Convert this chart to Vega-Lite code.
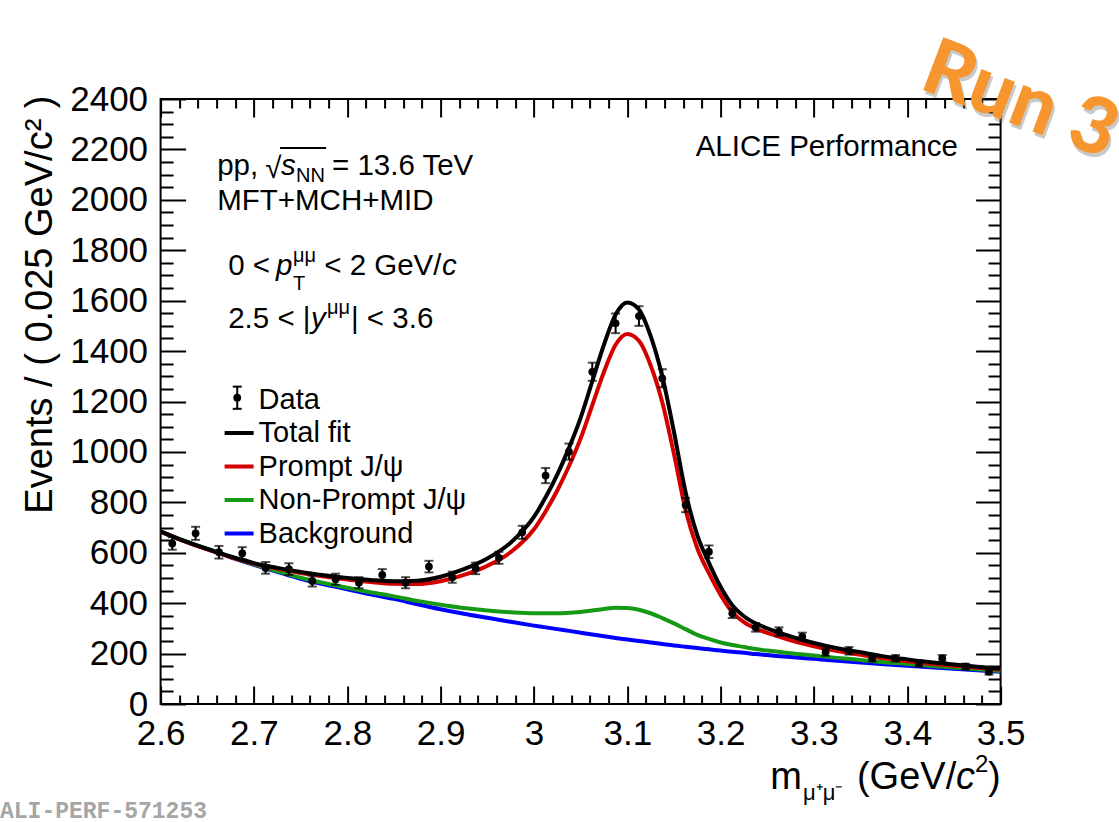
{
  "$schema": "https://vega.github.io/schema/vega-lite/v6.json",
  "width": 840,
  "height": 605,
  "autosize": {"type": "none"},
  "padding": {"left": 160.6, "top": 99, "right": 118.4, "bottom": 118},
  "background": "white",
  "config": {
    "view": {"stroke": "#000000", "strokeWidth": 2},
    "font": "Liberation Sans",
    "text": {"font": "Liberation Sans", "color": "#000000"}
  },
  "data": {"values": [{}]},
  "datasets": {
    "bins": [
      {"m": 2.6125, "n": 637, "err": 25}, {"m": 2.6375, "n": 677, "err": 26},
      {"m": 2.6625, "n": 602, "err": 25}, {"m": 2.6875, "n": 598, "err": 24},
      {"m": 2.7125, "n": 540, "err": 23}, {"m": 2.7375, "n": 535, "err": 23},
      {"m": 2.7625, "n": 488, "err": 22}, {"m": 2.7875, "n": 495, "err": 22},
      {"m": 2.8125, "n": 481, "err": 22}, {"m": 2.8375, "n": 512, "err": 23},
      {"m": 2.8625, "n": 481, "err": 22}, {"m": 2.8875, "n": 545, "err": 23},
      {"m": 2.9125, "n": 503, "err": 22}, {"m": 2.9375, "n": 538, "err": 23},
      {"m": 2.9625, "n": 580, "err": 24}, {"m": 2.9875, "n": 681, "err": 26},
      {"m": 3.0125, "n": 906, "err": 30}, {"m": 3.0375, "n": 1001, "err": 32},
      {"m": 3.0625, "n": 1318, "err": 36}, {"m": 3.0875, "n": 1510, "err": 39},
      {"m": 3.1125, "n": 1539, "err": 39}, {"m": 3.1375, "n": 1292, "err": 36},
      {"m": 3.1625, "n": 789, "err": 28}, {"m": 3.1875, "n": 604, "err": 25},
      {"m": 3.2125, "n": 360, "err": 19}, {"m": 3.2375, "n": 304, "err": 17},
      {"m": 3.2625, "n": 287, "err": 17}, {"m": 3.2875, "n": 267, "err": 16},
      {"m": 3.3125, "n": 205, "err": 14}, {"m": 3.3375, "n": 211, "err": 15},
      {"m": 3.3625, "n": 181, "err": 13}, {"m": 3.3875, "n": 181, "err": 13},
      {"m": 3.4125, "n": 161, "err": 13}, {"m": 3.4375, "n": 181, "err": 13},
      {"m": 3.4625, "n": 148, "err": 12}, {"m": 3.4875, "n": 128, "err": 11}
    ],
    "fit": [
      {"m": 2.600, "Background": 683, "Non-Prompt J/ψ": 684, "Prompt J/ψ": 684, "Total fit": 685},
      {"m": 2.625, "Background": 647, "Non-Prompt J/ψ": 648, "Prompt J/ψ": 646, "Total fit": 647},
      {"m": 2.650, "Background": 614, "Non-Prompt J/ψ": 616, "Prompt J/ψ": 613, "Total fit": 615},
      {"m": 2.675, "Background": 582, "Non-Prompt J/ψ": 584, "Prompt J/ψ": 583, "Total fit": 585},
      {"m": 2.700, "Background": 552, "Non-Prompt J/ψ": 554, "Prompt J/ψ": 557, "Total fit": 559},
      {"m": 2.725, "Background": 524, "Non-Prompt J/ψ": 527, "Prompt J/ψ": 537, "Total fit": 540},
      {"m": 2.750, "Background": 497, "Non-Prompt J/ψ": 501, "Prompt J/ψ": 520, "Total fit": 524},
      {"m": 2.775, "Background": 475, "Non-Prompt J/ψ": 480, "Prompt J/ψ": 506, "Total fit": 511},
      {"m": 2.800, "Background": 455, "Non-Prompt J/ψ": 461, "Prompt J/ψ": 494, "Total fit": 500},
      {"m": 2.825, "Background": 435, "Non-Prompt J/ψ": 443, "Prompt J/ψ": 484, "Total fit": 492},
      {"m": 2.850, "Background": 417, "Non-Prompt J/ψ": 427, "Prompt J/ψ": 477, "Total fit": 487},
      {"m": 2.875, "Background": 396, "Non-Prompt J/ψ": 409, "Prompt J/ψ": 476, "Total fit": 489},
      {"m": 2.900, "Background": 376, "Non-Prompt J/ψ": 394, "Prompt J/ψ": 487, "Total fit": 505},
      {"m": 2.925, "Background": 358, "Non-Prompt J/ψ": 381, "Prompt J/ψ": 512, "Total fit": 535},
      {"m": 2.950, "Background": 342, "Non-Prompt J/ψ": 371, "Prompt J/ψ": 548, "Total fit": 577},
      {"m": 2.975, "Background": 326, "Non-Prompt J/ψ": 364, "Prompt J/ψ": 602, "Total fit": 640},
      {"m": 3.000, "Background": 311, "Non-Prompt J/ψ": 360, "Prompt J/ψ": 693, "Total fit": 742},
      {"m": 3.0125, "Background": 304, "Non-Prompt J/ψ": 360, "Prompt J/ψ": 764, "Total fit": 820},
      {"m": 3.025, "Background": 297, "Non-Prompt J/ψ": 360, "Prompt J/ψ": 847, "Total fit": 910},
      {"m": 3.0375, "Background": 290, "Non-Prompt J/ψ": 362, "Prompt J/ψ": 943, "Total fit": 1015},
      {"m": 3.050, "Background": 283, "Non-Prompt J/ψ": 365, "Prompt J/ψ": 1053, "Total fit": 1135},
      {"m": 3.0625, "Background": 276, "Non-Prompt J/ψ": 371, "Prompt J/ψ": 1185, "Total fit": 1280},
      {"m": 3.075, "Background": 269, "Non-Prompt J/ψ": 377, "Prompt J/ψ": 1317, "Total fit": 1425},
      {"m": 3.0875, "Background": 262, "Non-Prompt J/ψ": 382, "Prompt J/ψ": 1425, "Total fit": 1545},
      {"m": 3.100, "Background": 256, "Non-Prompt J/ψ": 381, "Prompt J/ψ": 1468, "Total fit": 1593},
      {"m": 3.1125, "Background": 250, "Non-Prompt J/ψ": 374, "Prompt J/ψ": 1441, "Total fit": 1565},
      {"m": 3.125, "Background": 244, "Non-Prompt J/ψ": 360, "Prompt J/ψ": 1344, "Total fit": 1460},
      {"m": 3.1375, "Background": 238, "Non-Prompt J/ψ": 341, "Prompt J/ψ": 1197, "Total fit": 1300},
      {"m": 3.150, "Background": 232, "Non-Prompt J/ψ": 320, "Prompt J/ψ": 992, "Total fit": 1080},
      {"m": 3.1625, "Background": 227, "Non-Prompt J/ψ": 297, "Prompt J/ψ": 770, "Total fit": 840},
      {"m": 3.175, "Background": 222, "Non-Prompt J/ψ": 274, "Prompt J/ψ": 618, "Total fit": 670},
      {"m": 3.1875, "Background": 217, "Non-Prompt J/ψ": 258, "Prompt J/ψ": 519, "Total fit": 560},
      {"m": 3.200, "Background": 212, "Non-Prompt J/ψ": 244, "Prompt J/ψ": 433, "Total fit": 465},
      {"m": 3.2125, "Background": 207, "Non-Prompt J/ψ": 234, "Prompt J/ψ": 365, "Total fit": 392},
      {"m": 3.225, "Background": 203, "Non-Prompt J/ψ": 226, "Prompt J/ψ": 325, "Total fit": 348},
      {"m": 3.2375, "Background": 198, "Non-Prompt J/ψ": 218, "Prompt J/ψ": 300, "Total fit": 320},
      {"m": 3.250, "Background": 194, "Non-Prompt J/ψ": 212, "Prompt J/ψ": 282, "Total fit": 300},
      {"m": 3.275, "Background": 186, "Non-Prompt J/ψ": 201, "Prompt J/ψ": 253, "Total fit": 268},
      {"m": 3.300, "Background": 179, "Non-Prompt J/ψ": 192, "Prompt J/ψ": 229, "Total fit": 242},
      {"m": 3.325, "Background": 172, "Non-Prompt J/ψ": 183, "Prompt J/ψ": 210, "Total fit": 221},
      {"m": 3.350, "Background": 165, "Non-Prompt J/ψ": 175, "Prompt J/ψ": 195, "Total fit": 205},
      {"m": 3.375, "Background": 158, "Non-Prompt J/ψ": 166, "Prompt J/ψ": 181, "Total fit": 189},
      {"m": 3.400, "Background": 152, "Non-Prompt J/ψ": 159, "Prompt J/ψ": 170, "Total fit": 177},
      {"m": 3.425, "Background": 146, "Non-Prompt J/ψ": 152, "Prompt J/ψ": 160, "Total fit": 166},
      {"m": 3.450, "Background": 140, "Non-Prompt J/ψ": 145, "Prompt J/ψ": 152, "Total fit": 157},
      {"m": 3.475, "Background": 134, "Non-Prompt J/ψ": 138, "Prompt J/ψ": 144, "Total fit": 148},
      {"m": 3.500, "Background": 128, "Non-Prompt J/ψ": 131, "Prompt J/ψ": 137, "Total fit": 140}
    ]
  },
  "resolve": {"axis": {"x": "independent", "y": "independent"}},
  "layer": [
    {
      "data": {"name": "fit"},
      "transform": [
        {"fold": ["Background", "Non-Prompt J/ψ", "Prompt J/ψ", "Total fit"], "as": ["series", "v"]}
      ],
      "mark": {"type": "line", "strokeWidth": 4, "interpolate": "monotone", "clip": true},
      "encoding": {
        "x": {
          "field": "m", "type": "quantitative",
          "scale": {"domain": [2.6, 3.5], "nice": false, "zero": false},
          "axis": {
            "orient": "bottom",
            "values": [2.6,2.62,2.64,2.66,2.68,2.7,2.72,2.74,2.76,2.78,2.8,2.82,2.84,2.86,2.88,2.9,2.92,2.94,2.96,2.98,3,3.02,3.04,3.06,3.08,3.1,3.12,3.14,3.16,3.18,3.2,3.22,3.24,3.26,3.28,3.3,3.32,3.34,3.36,3.38,3.4,3.42,3.44,3.46,3.48,3.5],
            "tickSize": {"condition": {"test": "abs(datum.value*10 - round(datum.value*10)) < 0.001", "value": -18}, "value": -9},
            "tickWidth": 2, "tickColor": "#000000",
            "domain": false, "grid": false,
            "labelExpr": "abs(datum.value*10 - round(datum.value*10)) < 0.001 ? format(datum.value, '~g') : ''",
            "labelFont": "Liberation Sans", "labelFontSize": 35, "labelColor": "#000000",
            "labelPadding": 58, "labelBaseline": "alphabetic",
            "labelOverlap": false, "labelFlush": false, "labelBound": false,
            "title": null
          }
        },
        "y": {
          "field": "v", "type": "quantitative",
          "scale": {"domain": [0, 2400], "nice": false},
          "axis": {
            "orient": "left",
            "values": [0,50,100,150,200,250,300,350,400,450,500,550,600,650,700,750,800,850,900,950,1000,1050,1100,1150,1200,1250,1300,1350,1400,1450,1500,1550,1600,1650,1700,1750,1800,1850,1900,1950,2000,2050,2100,2150,2200,2250,2300,2350,2400],
            "tickSize": {"condition": {"test": "datum.value % 200 === 0", "value": -25}, "value": -12.5},
            "tickWidth": 2, "tickColor": "#000000",
            "domain": false, "grid": false,
            "labelExpr": "datum.value % 200 === 0 ? format(datum.value, 'd') : ''",
            "labelFont": "Liberation Sans", "labelFontSize": 35, "labelColor": "#000000",
            "labelPadding": 38, "labelBaseline": "middle",
            "labelOverlap": false, "labelFlush": false, "labelBound": false,
            "title": "Events / ( 0.025 GeV/c² )",
            "titleFont": "Liberation Sans", "titleFontSize": 38, "titleFontWeight": "normal",
            "titleColor": "#000000", "titleAngle": -90,
            "titleX": -120, "titleY": -4, "titleAlign": "right", "titleBaseline": "middle"
          }
        },
        "color": {
          "field": "series", "type": "nominal",
          "scale": {
            "domain": ["Data", "Total fit", "Prompt J/ψ", "Non-Prompt J/ψ", "Background"],
            "range": ["#000000", "#000000", "#d40000", "#169a16", "#0000ff"]
          },
          "legend": {
            "orient": "none", "legendX": 62, "legendY": 284,
            "title": null, "padding": 0,
            "symbolType": "stroke", "symbolSize": 841, "symbolStrokeWidth": 4,
            "labelFont": "Liberation Sans", "labelFontSize": 29, "labelColor": "#000000",
            "labelOffset": 3, "labelLimit": 0, "rowPadding": 1.5, "symbolLimit": 0,
            "encode": {
              "symbols": {
                "update": {
                  "shape": {"signal": "datum.value === 'Data' ? 'M0,0' : 'stroke'"}
                }
              }
            }
          }
        }
      }
    },
    {
      "data": {"name": "bins"},
      "mark": {"type": "errorbar", "thickness": 2, "color": "#000000", "ticks": {"size": 9, "thickness": 2, "color": "#000000"}},
      "encoding": {
        "x": {"field": "m", "type": "quantitative", "axis": null},
        "y": {"field": "n", "type": "quantitative", "axis": null, "title": null},
        "yError": {"field": "err"}
      }
    },
    {
      "data": {"name": "bins"},
      "mark": {"type": "point", "filled": true, "size": 60, "color": "#000000", "opacity": 1},
      "encoding": {
        "x": {
          "field": "m", "type": "quantitative",
          "axis": {
            "orient": "top",
            "values": [2.6,2.62,2.64,2.66,2.68,2.7,2.72,2.74,2.76,2.78,2.8,2.82,2.84,2.86,2.88,2.9,2.92,2.94,2.96,2.98,3,3.02,3.04,3.06,3.08,3.1,3.12,3.14,3.16,3.18,3.2,3.22,3.24,3.26,3.28,3.3,3.32,3.34,3.36,3.38,3.4,3.42,3.44,3.46,3.48,3.5],
            "tickSize": {"condition": {"test": "abs(datum.value*10 - round(datum.value*10)) < 0.001", "value": -18}, "value": -9},
            "tickWidth": 2, "tickColor": "#000000",
            "domain": false, "grid": false, "labels": false, "title": null
          }
        },
        "y": {
          "field": "n", "type": "quantitative",
          "axis": {
            "orient": "right",
            "values": [0,50,100,150,200,250,300,350,400,450,500,550,600,650,700,750,800,850,900,950,1000,1050,1100,1150,1200,1250,1300,1350,1400,1450,1500,1550,1600,1650,1700,1750,1800,1850,1900,1950,2000,2050,2100,2150,2200,2250,2300,2350,2400],
            "tickSize": {"condition": {"test": "datum.value % 200 === 0", "value": -25}, "value": -12.5},
            "tickWidth": 2, "tickColor": "#000000",
            "domain": false, "grid": false, "labels": false, "title": null
          }
        }
      }
    },
    {
      "mark": {"type": "rule", "strokeWidth": 2, "color": "#000000"},
      "encoding": {
        "x": {"datum": 2.6821, "type": "quantitative", "axis": null},
        "y": {"datum": 1171, "type": "quantitative", "axis": null},
        "y2": {"datum": 1259}
      }
    },
    {
      "mark": {"type": "tick", "orient": "horizontal", "size": 9, "thickness": 2, "color": "#000000", "opacity": 1},
      "encoding": {
        "x": {"datum": 2.6821, "type": "quantitative", "axis": null},
        "y": {"datum": 1171, "type": "quantitative", "axis": null}
      }
    },
    {
      "mark": {"type": "tick", "orient": "horizontal", "size": 9, "thickness": 2, "color": "#000000", "opacity": 1},
      "encoding": {
        "x": {"datum": 2.6821, "type": "quantitative", "axis": null},
        "y": {"datum": 1259, "type": "quantitative", "axis": null}
      }
    },
    {
      "mark": {"type": "point", "filled": true, "size": 60, "color": "#000000", "opacity": 1},
      "encoding": {
        "x": {"datum": 2.6821, "type": "quantitative", "axis": null},
        "y": {"datum": 1215, "type": "quantitative", "axis": null}
      }
    },
    {
      "mark": {"type": "text", "text": "ALICE Performance", "align": "right", "baseline": "alphabetic", "fontSize": 29.5},
      "encoding": {"x": {"datum": 3.4544, "type": "quantitative", "axis": null}, "y": {"datum": 2174, "type": "quantitative", "axis": null}}
    },
    {
      "mark": {"type": "text", "text": "pp,", "align": "left", "baseline": "alphabetic", "fontSize": 29.5},
      "encoding": {"x": {"datum": 2.6606, "type": "quantitative", "axis": null}, "y": {"datum": 2098.5, "type": "quantitative", "axis": null}}
    },
    {
      "mark": {"type": "text", "text": "√", "align": "left", "baseline": "alphabetic", "fontSize": 29.5},
      "encoding": {"x": {"datum": 2.7120, "type": "quantitative", "axis": null}, "y": {"datum": 2086.6, "type": "quantitative", "axis": null}}
    },
    {
      "mark": {"type": "rule", "strokeWidth": 2, "color": "#000000"},
      "encoding": {
        "x": {"datum": 2.7280, "type": "quantitative", "axis": null},
        "x2": {"datum": 2.7774},
        "y": {"datum": 2205.7, "type": "quantitative", "axis": null}
      }
    },
    {
      "mark": {"type": "text", "text": "s", "align": "left", "baseline": "alphabetic", "fontSize": 29.5, "fontStyle": "italic"},
      "encoding": {"x": {"datum": 2.7290, "type": "quantitative", "axis": null}, "y": {"datum": 2098.5, "type": "quantitative", "axis": null}}
    },
    {
      "mark": {"type": "text", "text": "NN", "align": "left", "baseline": "alphabetic", "fontSize": 20},
      "encoding": {"x": {"datum": 2.7450, "type": "quantitative", "axis": null}, "y": {"datum": 2070.8, "type": "quantitative", "axis": null}}
    },
    {
      "mark": {"type": "text", "text": "= 13.6 TeV", "align": "left", "baseline": "alphabetic", "fontSize": 29.5},
      "encoding": {"x": {"datum": 2.7836, "type": "quantitative", "axis": null}, "y": {"datum": 2098.5, "type": "quantitative", "axis": null}}
    },
    {
      "mark": {"type": "text", "text": "MFT+MCH+MID", "align": "left", "baseline": "alphabetic", "fontSize": 29.5},
      "encoding": {"x": {"datum": 2.6606, "type": "quantitative", "axis": null}, "y": {"datum": 1959.7, "type": "quantitative", "axis": null}}
    },
    {
      "mark": {"type": "text", "text": "0 <", "align": "left", "baseline": "alphabetic", "fontSize": 29.5},
      "encoding": {"x": {"datum": 2.6724, "type": "quantitative", "axis": null}, "y": {"datum": 1701.8, "type": "quantitative", "axis": null}}
    },
    {
      "mark": {"type": "text", "text": "p", "align": "left", "baseline": "alphabetic", "fontSize": 29.5, "fontStyle": "italic"},
      "encoding": {"x": {"datum": 2.7237, "type": "quantitative", "axis": null}, "y": {"datum": 1701.8, "type": "quantitative", "axis": null}}
    },
    {
      "mark": {"type": "text", "text": "μμ", "align": "left", "baseline": "alphabetic", "fontSize": 20},
      "encoding": {"x": {"datum": 2.7419, "type": "quantitative", "axis": null}, "y": {"datum": 1753.4, "type": "quantitative", "axis": null}}
    },
    {
      "mark": {"type": "text", "text": "T", "align": "left", "baseline": "alphabetic", "fontSize": 20},
      "encoding": {"x": {"datum": 2.7419, "type": "quantitative", "axis": null}, "y": {"datum": 1642.3, "type": "quantitative", "axis": null}}
    },
    {
      "mark": {"type": "text", "text": "< 2 GeV/", "align": "left", "baseline": "alphabetic", "fontSize": 29.5},
      "encoding": {"x": {"datum": 2.7753, "type": "quantitative", "axis": null}, "y": {"datum": 1701.8, "type": "quantitative", "axis": null}}
    },
    {
      "mark": {"type": "text", "text": "c", "align": "left", "baseline": "alphabetic", "fontSize": 29.5, "fontStyle": "italic"},
      "encoding": {"x": {"datum": 2.9015, "type": "quantitative", "axis": null}, "y": {"datum": 1701.8, "type": "quantitative", "axis": null}}
    },
    {
      "mark": {"type": "text", "text": "2.5 < |", "align": "left", "baseline": "alphabetic", "fontSize": 29.5},
      "encoding": {"x": {"datum": 2.6724, "type": "quantitative", "axis": null}, "y": {"datum": 1491.6, "type": "quantitative", "axis": null}}
    },
    {
      "mark": {"type": "text", "text": "y", "align": "left", "baseline": "alphabetic", "fontSize": 29.5, "fontStyle": "italic"},
      "encoding": {"x": {"datum": 2.7611, "type": "quantitative", "axis": null}, "y": {"datum": 1491.6, "type": "quantitative", "axis": null}}
    },
    {
      "mark": {"type": "text", "text": "μμ", "align": "left", "baseline": "alphabetic", "fontSize": 20},
      "encoding": {"x": {"datum": 2.7783, "type": "quantitative", "axis": null}, "y": {"datum": 1547.1, "type": "quantitative", "axis": null}}
    },
    {
      "mark": {"type": "text", "text": "| < 3.6", "align": "left", "baseline": "alphabetic", "fontSize": 29.5},
      "encoding": {"x": {"datum": 2.8040, "type": "quantitative", "axis": null}, "y": {"datum": 1491.6, "type": "quantitative", "axis": null}}
    },
    {
      "mark": {"type": "text", "text": "m", "align": "left", "baseline": "alphabetic", "fontSize": 38},
      "encoding": {"x": {"datum": 3.2532, "type": "quantitative", "axis": null}, "y": {"datum": -337.2, "type": "quantitative", "axis": null}}
    },
    {
      "mark": {"type": "text", "text": "μ⁺μ⁻", "align": "left", "baseline": "alphabetic", "fontSize": 22},
      "encoding": {"x": {"datum": 3.2883, "type": "quantitative", "axis": null}, "y": {"datum": -380.8, "type": "quantitative", "axis": null}}
    },
    {
      "mark": {"type": "text", "text": "(GeV/", "align": "left", "baseline": "alphabetic", "fontSize": 38},
      "encoding": {"x": {"datum": 3.3461, "type": "quantitative", "axis": null}, "y": {"datum": -337.2, "type": "quantitative", "axis": null}}
    },
    {
      "mark": {"type": "text", "text": "c", "align": "left", "baseline": "alphabetic", "fontSize": 38, "fontStyle": "italic"},
      "encoding": {"x": {"datum": 3.4522, "type": "quantitative", "axis": null}, "y": {"datum": -337.2, "type": "quantitative", "axis": null}}
    },
    {
      "mark": {"type": "text", "text": "2", "align": "left", "baseline": "alphabetic", "fontSize": 24},
      "encoding": {"x": {"datum": 3.4726, "type": "quantitative", "axis": null}, "y": {"datum": -269.8, "type": "quantitative", "axis": null}}
    },
    {
      "mark": {"type": "text", "text": ")", "align": "left", "baseline": "alphabetic", "fontSize": 38},
      "encoding": {"x": {"datum": 3.4865, "type": "quantitative", "axis": null}, "y": {"datum": -337.2, "type": "quantitative", "axis": null}}
    },
    {
      "mark": {"type": "text", "text": "ALI-PERF-571253", "align": "left", "baseline": "alphabetic", "fontSize": 23, "font": "Liberation Mono", "fontWeight": "bold", "color": "#a6a6a6"},
      "encoding": {"x": {"datum": 2.4279, "type": "quantitative", "axis": null}, "y": {"datum": -452, "type": "quantitative", "axis": null}}
    },
    {
      "mark": {"type": "text", "text": "Run 3", "align": "center", "baseline": "middle", "fontSize": 78, "font": "Lato", "fontWeight": 900, "angle": 20.7, "color": "#666666", "opacity": 0.35, "dx": 3, "dy": 3},
      "encoding": {"x": {"datum": 3.5207, "type": "quantitative", "axis": null}, "y": {"datum": 2388, "type": "quantitative", "axis": null}}
    },
    {
      "mark": {"type": "text", "text": "Run 3", "align": "center", "baseline": "middle", "fontSize": 78, "font": "Lato", "fontWeight": 900, "angle": 20.7, "color": "#f7962f"},
      "encoding": {"x": {"datum": 3.5207, "type": "quantitative", "axis": null}, "y": {"datum": 2388, "type": "quantitative", "axis": null}}
    }
  ]
}
